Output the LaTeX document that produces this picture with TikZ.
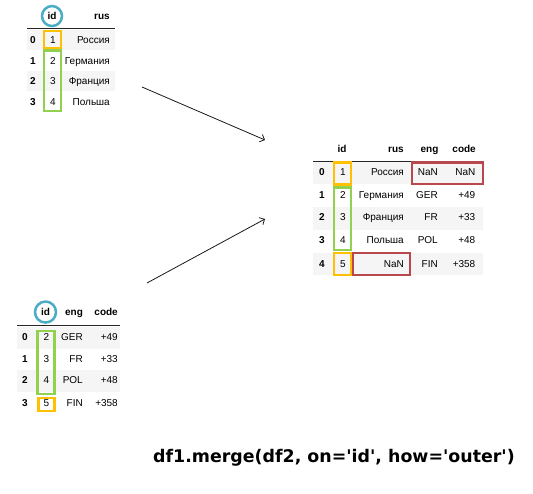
\documentclass[tikz,border=0pt]{standalone}
\usepackage{fontspec}
\setmainfont{Liberation Sans}
\newfontfamily\codefont{DejaVu Sans}
\usepackage{tikz}
\usetikzlibrary{arrows.meta}
\usetikzlibrary{positioning}

\definecolor{idblue}{RGB}{75,172,198}
\definecolor{idorange}{RGB}{255,192,0}
\definecolor{idgreen}{RGB}{146,208,80}
\definecolor{nanred}{RGB}{182,72,78}
\definecolor{stripe}{RGB}{245,245,245}

\tikzset{
  cell/.style={inner sep=0pt,anchor=mid,font=\fontsize{10}{12}\selectfont},
  rcell/.style={cell,anchor=mid east},
  head/.style={cell,font=\fontsize{10}{12}\selectfont\bfseries},
  rhead/.style={head,anchor=mid east},
  keybox/.style={draw=#1,line width=2.5pt},
  idring/.style={draw=idblue,line width=2.5pt},
  rule/.style={draw=black!85,line width=0.9pt},
  flow/.style={-{Straight Barb[length=4pt,width=8pt]},line width=0.8pt,black!90}
}

\begin{document}
\begin{tikzpicture}[x=1pt,y=-1pt]
      \useasboundingbox (0,0) rectangle (533,494);

      % df1
      \foreach \y in {30,71}
        \fill[stripe] (27,\y) rectangle (115,\y+20.5);
      \node[head] (d1-id) at (52,17) {id};
      \node[rhead] (d1-rus) at (110,17) {rus};
      \draw[rule] (27,28) -- (115,28);
      \foreach \i/\y/\id/\rus in {0/41/1/Россия,1/61.5/2/Германия,2/82/3/Франция,3/102.5/4/Польша}
      {
        \node[head] (d1-i\i) at (33,\y) {\i};
        \node[cell] (d1-id\i) at (53,\y) {\id};
        \node[rcell] (d1-rus\i) at (110,\y) {\rus};
      }
      \draw[idring] (d1-id) circle (10pt);
      \draw[keybox=idorange] (44,31) rectangle (61,48);
      \draw[keybox=idgreen] (44,50.5) rectangle (61,111);

      % df2
      \foreach \y in {327.5,370.5}
        \fill[stripe] (17,\y) rectangle (120,\y+21.5);
      \node[head] (d2-id) at (45.5,313) {id};
      \node[head] (d2-eng) at (74,313) {eng};
      \node[rhead] (d2-code) at (118,313) {code};
      \draw[rule] (17,325) -- (120,325);
      \foreach \i/\y/\id/\eng/\code in {0/338/2/GER/+49,1/359.5/3/FR/+33,2/381/4/POL/+48,3/403.5/5/FIN/+358}
      {
        \node[head] (d2-i\i) at (25,\y) {\i};
        \node[cell] (d2-id\i) at (46.5,\y) {\id};
        \node[rcell] (d2-eng\i) at (83,\y) {\eng};
        \node[rcell] (d2-code\i) at (118,\y) {\code};
      }
      \draw[idring] (d2-id) circle (10.5pt);
      \draw[keybox=idgreen] (37.5,331) rectangle (54.5,394);
      \draw[keybox=idorange] (38.5,398) rectangle (54.5,411);

      % outer merge
      \foreach \y in {162,207.5,253}
        \fill[stripe] (313,\y) rectangle (483,\y+22.5);
      \node[head] (m-id) at (342,150) {id};
      \node[rhead] (m-rus) at (404,150) {rus};
      \node[head] (m-eng) at (429.5,150) {eng};
      \node[rhead] (m-code) at (476,150) {code};
      \draw[rule] (313,161) -- (482,161);
      \foreach \i/\y/\id/\rus/\eng/\code in {0/173/1/Россия/NaN/NaN,1/195.5/2/Германия/GER/+49,2/218/3/Франция/FR/+33,3/241/4/Польша/POL/+48,4/265/5/NaN/FIN/+358}
      {
        \node[head] (m-i\i) at (322,\y) {\i};
        \node[cell] (m-id\i) at (343,\y) {\id};
        \node[rcell] (m-rus\i) at (404,\y) {\rus};
        \node[rcell] (m-eng\i) at (438,\y) {\eng};
        \node[rcell] (m-code\i) at (475.5,\y) {\code};
      }
      \draw[keybox=idorange] (334,162.5) rectangle (351,184.5);
      \draw[keybox=idgreen] (334,187.5) rectangle (351,250);
      \draw[keybox=idorange] (334,253) rectangle (351,275);
      \draw[keybox=nanred] (412,162.5) rectangle (483,184);
      \draw[keybox=nanred] (353,253) rectangle (410,275);

      % arrows
      \coordinate (a1) at (142,87);
      \coordinate (b1) at (265,140);
      \coordinate (a2) at (147,283);
      \coordinate (b2) at (265,219);
      \draw[flow] (a1) -- (b1);
      \draw[flow] (a2) -- (b2);

      \node[inner sep=0pt,anchor=base west,font=\codefont\bfseries\fontsize{17.4}{21}\selectfont] (call) at (153,462) {df1.merge(df2, on='id', how='outer')};
\end{tikzpicture}
\end{document}
